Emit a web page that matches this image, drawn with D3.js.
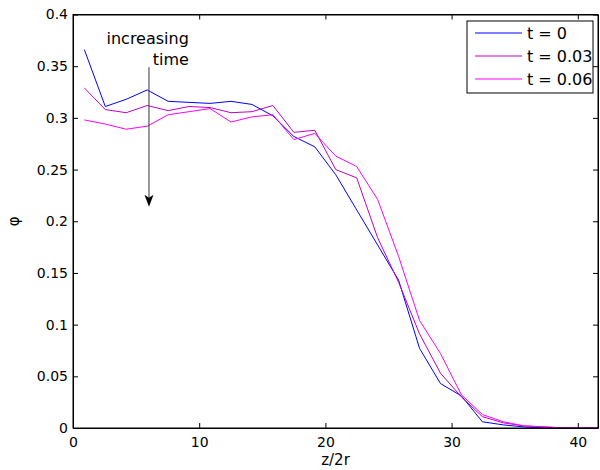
<!DOCTYPE html>
<html>
<head>
<meta charset="utf-8">
<script src="https://cdn.jsdelivr.net/npm/d3@7"></script>
<style>
body { margin: 0; background: #fff; }
text { font-family: "DejaVu Sans", sans-serif; }
</style>
</head>
<body>
<div id="graph"></div>
<script>
// z/2r positions of the profile points
var zpos = [0.9, 2.56, 4.22, 5.88, 7.54, 9.2, 10.86, 12.52, 14.18, 15.84, 17.5, 19.16, 20.82,
            22.48, 24.14, 25.8, 27.46, 29.12, 30.78, 32.44, 34.1, 35.76, 37.42, 39.08, 40.74, 42.4];

var phi_t0 = [0.366, 0.311, 0.318, 0.327, 0.316, 0.315, 0.314, 0.316, 0.313, 0.302, 0.282, 0.272, 0.245,
              0.211, 0.177, 0.143, 0.077, 0.043, 0.031, 0.006, 0.003, 0.001, 0, 0, 0, 0];
var phi_t003 = [0.329, 0.308, 0.305, 0.312, 0.307, 0.311, 0.310, 0.305, 0.306, 0.312, 0.286, 0.288, 0.250,
                0.242, 0.184, 0.141, 0.091, 0.053, 0.030, 0.011, 0.005, 0.002, 0.001, 0, 0, 0];
var phi_t006 = [0.298, 0.294, 0.289, 0.292, 0.303, 0.306, 0.309, 0.296, 0.301, 0.303, 0.279, 0.285, 0.263,
                0.253, 0.221, 0.166, 0.104, 0.072, 0.032, 0.013, 0.006, 0.002, 0.001, 0, 0, 0];

var seriesNames = ["t = 0", "t = 0.03", "t = 0.06"];
var seriesColors = ["#0000ff", "#bf00bf", "#ff00ff"];

var xTicks = [0, 10, 20, 30, 40];
var yTicks = [0, 0.05, 0.1, 0.15, 0.2, 0.25, 0.3, 0.35, 0.4];
var yTickLabels = ["0", "0.05", "0.1", "0.15", "0.2", "0.25", "0.3", "0.35", "0.4"];

// annotation "increasing time" with arrow (data coords)
var arrowX = 6.02, arrowY0 = 0.349, arrowY1 = 0.214;
var noteX = 9.18, noteLines = ["increasing", "time"], noteY = [0.371, 0.351];

buildGraph("#graph");

function buildGraph(id) {
    var W = 600, H = 470;
    var m = [14.5, 2, 42, 73]; // top, right, bottom, left
    var w = W - m[1] - m[3];
    var h = H - m[0] - m[2];

    var x = d3.scaleLinear().domain([0, 41.6]).range([0, w]);
    var y = d3.scaleLinear().domain([0, 0.4]).range([h, 0]);

    var svg = d3.select(id).append("svg")
        .attr("width", W)
        .attr("height", H);

    svg.append("defs").append("clipPath")
        .attr("id", "clip")
        .append("rect")
        .attr("width", w)
        .attr("height", h);

    var graph = svg.append("g")
        .attr("transform", "translate(" + m[3] + "," + m[0] + ")");

    var data = [phi_t0, phi_t003, phi_t006];

    var line = d3.line()
        .x(function(d, i) { return x(zpos[i]); })
        .y(function(d) { return y(d); });

    graph.append("g")
        .attr("clip-path", "url(#clip)")
        .selectAll("path")
        .data(data)
        .enter().append("path")
        .attr("fill", "none")
        .attr("stroke", function(d, i) { return seriesColors[i]; })
        .attr("stroke-width", 1)
        .attr("d", line);

    // axes, ticks inward on all four sides
    var tl = 5;
    var xAxis = d3.axisBottom(x).tickValues(xTicks).tickSizeInner(-tl).tickSizeOuter(0).tickPadding(9)
        .tickFormat(d3.format("d"));
    var xTop = d3.axisTop(x).tickValues(xTicks).tickSizeInner(-tl).tickSizeOuter(0).tickFormat("");
    var yAxis = d3.axisLeft(y).tickValues(yTicks).tickSizeInner(-tl).tickSizeOuter(0).tickPadding(5)
        .tickFormat(function(d, i) { return yTickLabels[i]; });
    var yRight = d3.axisRight(y).tickValues(yTicks).tickSizeInner(-tl).tickSizeOuter(0).tickFormat("");

    graph.append("g").attr("class", "axis").attr("transform", "translate(0," + h + ")").call(xAxis);
    graph.append("g").attr("class", "axis").call(xTop);
    graph.append("g").attr("class", "axis").call(yAxis);
    graph.append("g").attr("class", "axis").attr("transform", "translate(" + w + ",0)").call(yRight);

    graph.selectAll(".axis text")
        .attr("font-family", "DejaVu Sans")
        .attr("font-size", 14)
        .attr("fill", "#000");
    graph.selectAll(".axis path, .axis line").attr("stroke", "#000");

    graph.append("rect")
        .attr("width", w)
        .attr("height", h)
        .attr("fill", "none")
        .attr("stroke", "#000")
        .attr("stroke-width", 1);

    // axis labels
    svg.append("text")
        .attr("x", m[3] + w / 2)
        .attr("y", 465)
        .attr("text-anchor", "middle")
        .attr("font-size", 15)
        .text("z/2r");
    svg.append("text")
        .attr("transform", "translate(19," + (m[0] + h / 2) + ") rotate(-90)")
        .attr("text-anchor", "middle")
        .attr("font-size", 15)
        .text("φ");

    // annotation
    var ax = x(arrowX), ay0 = y(arrowY0), ay1 = y(arrowY1);
    graph.append("line")
        .attr("x1", ax).attr("x2", ax)
        .attr("y1", ay0).attr("y2", ay1 - 8)
        .attr("stroke", "#333")
        .attr("stroke-width", 1);
    graph.append("path")
        .attr("d", "M" + ax + "," + ay1 + "L" + (ax - 4.5) + "," + (ay1 - 12) + "L" + ax + "," + (ay1 - 9)
            + "L" + (ax + 4.5) + "," + (ay1 - 12) + "Z")
        .attr("fill", "#000");
    graph.selectAll(".note")
        .data(noteLines)
        .enter().append("text")
        .attr("class", "note")
        .attr("x", x(noteX))
        .attr("y", function(d, i) { return y(noteY[i]); })
        .attr("text-anchor", "end")
        .attr("font-size", 16)
        .text(function(d) { return d; });

    // legend
    var legend = svg.append("g").attr("transform", "translate(467,21)");
    legend.append("rect")
        .attr("width", 126)
        .attr("height", 72)
        .attr("fill", "#fff")
        .attr("stroke", "#000");
    var items = legend.selectAll(".item")
        .data(seriesNames)
        .enter().append("g")
        .attr("class", "item")
        .attr("transform", function(d, i) { return "translate(0," + (12 + i * 23) + ")"; });
    items.append("line")
        .attr("x1", 8).attr("x2", 55)
        .attr("stroke", function(d) { return seriesColors[seriesNames.indexOf(d)]; });
    items.append("text")
        .attr("x", 60)
        .attr("y", 6)
        .attr("font-size", 16)
        .text(function(d) { return d; });
}
</script>
</body>
</html>
